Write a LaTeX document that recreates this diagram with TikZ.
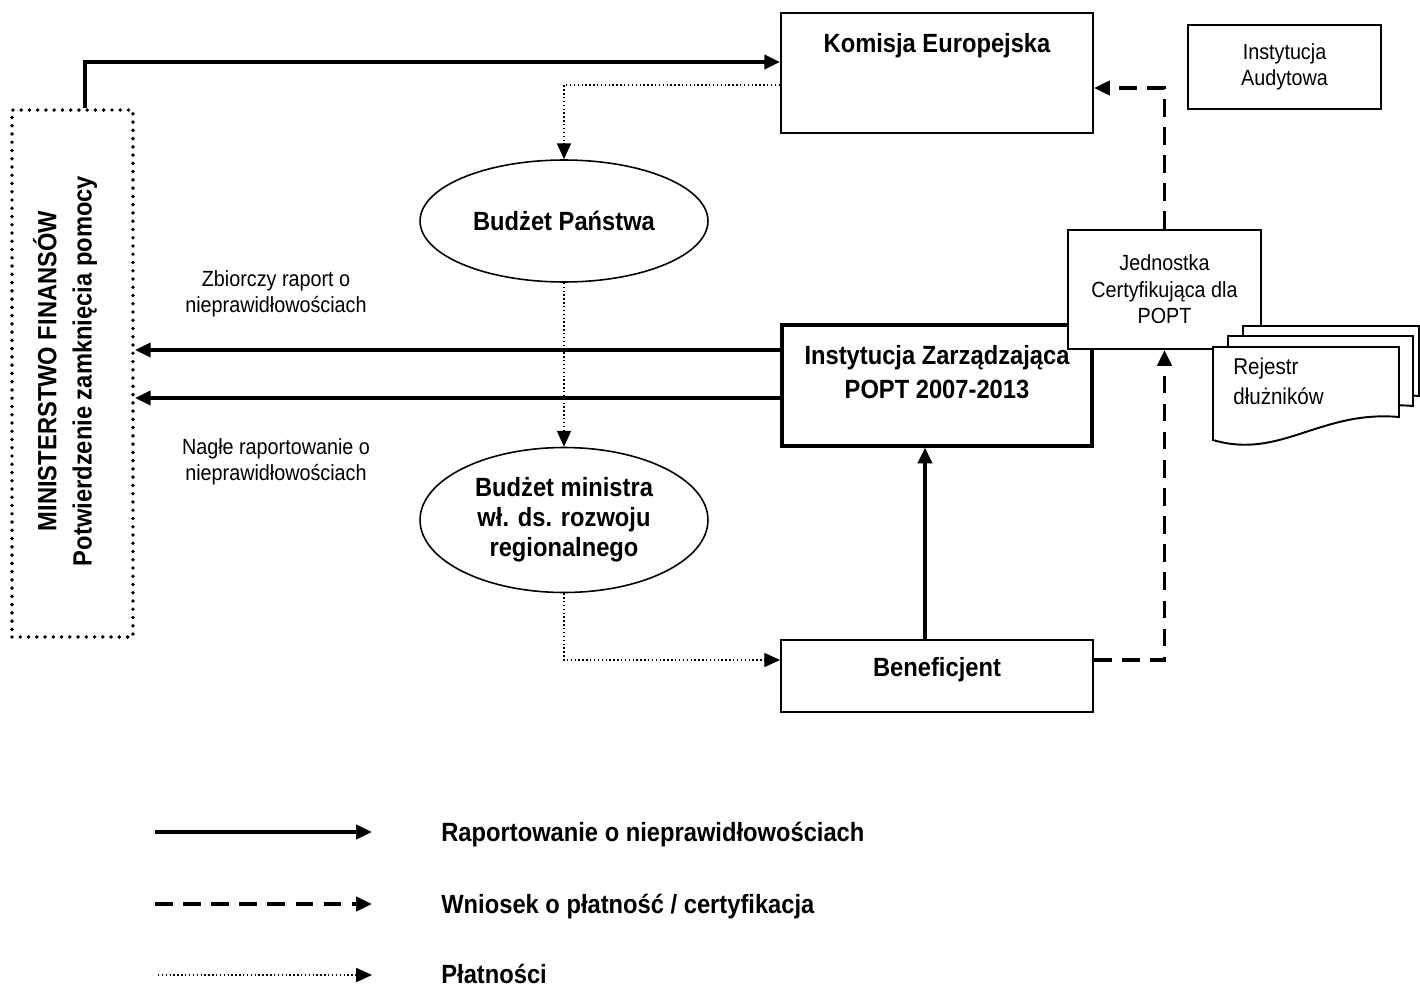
\documentclass[tikz,border=0pt]{standalone}
\usepackage{fontspec}
\setmainfont{Liberation Sans}[FakeStretch=0.9]
\usetikzlibrary{arrows.meta,shapes.geometric}
\tikzset{
    ibox/.style={rectangle,draw,line width=1.1pt,fill=white,inner sep=0pt},
    izbox/.style={rectangle,draw,line width=1.8pt,fill=white,inner sep=0pt},
    oval/.style={ellipse,draw,line width=0.9pt,inner sep=0pt,minimum width=5.76cm},
    mfbox/.style={rectangle,draw,line width=2.2pt,line cap=round,dash pattern=on 0pt off 4.7pt,minimum width=2.42cm,minimum height=10.54cm},
    txt/.style={font=\fontsize{12.5}{15}\selectfont,inner sep=0pt,align=center},
    btxt/.style={font=\bfseries\fontsize{15}{19}\selectfont,inner sep=0pt,align=center},
    rep/.style={-{Triangle[length=9pt,width=8pt]},line width=2.1pt},
    req/.style={-{Triangle[length=9pt,width=8pt]},line width=2.1pt,dash pattern=on 10pt off 6pt},
    pay/.style={-{Triangle[length=9pt,width=8pt]},line width=0.8pt,dash pattern=on 0.8pt off 1.4pt},
    docline/.style={line width=1.1pt,fill=white},
}
% one sheet of the register pile
\newcommand{\docpage}[3]{\draw[docline] (#1,#2) -- ++(#3,0) -- ++(0,70) .. controls +(-79,-7) and +(67,20) .. (#1,#2+93) -- cycle;}

\begin{document}
\begin{tikzpicture}[x=0.02cm,y=-0.02cm]
\useasboundingbox (0,0) rectangle (1420,987);
% institutions
\node[mfbox] (mf) at (72.5,373.5) {};
\node[btxt,rotate=90,font=\bfseries\fontsize{15}{20}\selectfont] (mftext) at (65,371) {MINISTERSTWO FINANSÓW\\Potwierdzenie zamknięcia pomocy};
\node[ibox,minimum width=6.24cm,minimum height=2.4cm] (ke) at (937,73) {};
\node[btxt,anchor=base] (ketext) at (937,52) {Komisja Europejska};
\node[ibox,txt,minimum width=3.86cm,minimum height=1.68cm] (ia) at (1284.5,67) {Instytucja\\Audytowa};
\node[oval,btxt,minimum height=2.44cm] (bp) at (564,221) {Budżet Państwa};
\node[oval,btxt,minimum height=2.9cm,font=\bfseries\fontsize{15}{17}\selectfont] (bm) at (564,520) {Budżet ministra\\wł. ds. rozwoju\\regionalnego};
\node[izbox,minimum width=6.2cm,minimum height=2.42cm] (iz) at (937,385.5) {};
\node[btxt] (iztext) at (937,372) {Instytucja Zarządzająca\\POPT 2007-2013};
\node[ibox,txt,minimum width=3.86cm,minimum height=2.38cm] (jc) at (1164.5,289.5) {Jednostka\\Certyfikująca dla\\POPT};
\node[ibox,btxt,minimum width=6.24cm,minimum height=1.44cm,text depth=10pt] (ben) at (937,676) {Beneficjent};
% register of debtors
\docpage{1243}{326}{176}
\docpage{1228}{336}{185}
\docpage{1213}{347}{186}
\node[txt,align=left,anchor=north west,font=\fontsize{13}{17}\selectfont] (rejestr) at (1233,358) {Rejestr\\dłużników};
% flows
\draw[rep] ([xshift=0.25cm]mf.north) |- ([yshift=0.22cm]ke.west);
\draw[pay] ([yshift=-0.24cm]ke.west) -| (bp.north);
\draw[pay] (bp.south) -- (bm.north);
\draw[pay] (bm.south) |- ([yshift=0.32cm]ben.west);
\draw[rep] ([xshift=-0.24cm]ben.north) -- ([xshift=-0.24cm]iz.south);
\draw[req] ([yshift=0.32cm]ben.east) -| (jc.south);
\draw[req] (jc.north) |- ([yshift=-0.3cm]ke.east);
\coordinate (zr) at ([yshift=0.71cm]iz.west);
\coordinate (nr) at ([yshift=-0.25cm]iz.west);
\draw[rep] (zr) -- (zr -| mf.east);
\draw[rep] (nr) -- (nr -| mf.east);
\node[txt] (zbiorczy) at (276,294) {Zbiorczy raport o\\nieprawidłowościach};
\node[txt] (nagle) at (276,462) {Nagłe raportowanie o\\nieprawidłowościach};
% legend
\coordinate (r1) at (155,832);
\coordinate (r2) at (372,832);
\coordinate (w1) at (155,904);
\coordinate (w2) at (372,904);
\coordinate (p1) at (158,975);
\coordinate (p2) at (372,975);
\draw[rep] (r1) -- (r2);
\draw[req] (w1) -- (w2);
\draw[pay] (p1) -- (p2);
\node[btxt,anchor=west] (lrep) at (441,834.5) {Raportowanie o nieprawidłowościach};
\node[btxt,anchor=west] (lreq) at (441,907) {Wniosek o płatność / certyfikacja};
\node[btxt,anchor=base west] (lpay) at (441,983) {Płatności};
\end{tikzpicture}
\end{document}
